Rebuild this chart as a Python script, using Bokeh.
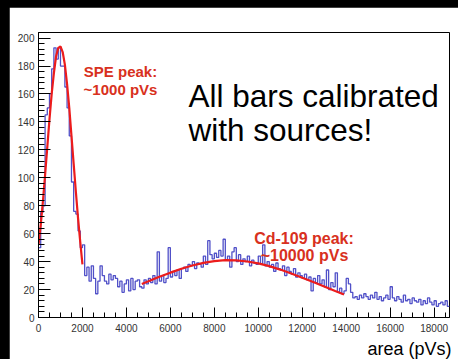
from bokeh.plotting import figure
from bokeh.models import Range1d, Label, SingleIntervalTicker, Title
from bokeh.layouts import column
from bokeh.embed import file_html
from bokeh.resources import INLINE

# ---------------- data ----------------
BIN_START = 0
BIN_WIDTH = 100  # pVs

counts = [
    # 0 - 2100
    50, 75, 80, 145, 150, 160, 178, 193, 185, 193, 180, 180, 165, 150, 130, 97, 76, 74, 62, 50, 52,
    # 2100 - 4700
    30, 36, 26, 37, 28, 17, 26, 37, 30, 26, 24, 31, 27, 30, 28, 22, 26, 18, 24, 27, 19, 28, 20, 26, 27, 22,
    # 4700 - 9000
    21, 27, 24, 28, 25, 30, 24, 47, 26, 30, 25, 28, 50, 29, 33, 30, 34, 28, 35, 36, 33, 38, 37, 40, 35,
    39, 38, 36, 44, 38, 55, 45, 42, 46, 43, 48, 44, 56, 41, 44, 36, 47, 50,
    # 9000 - 14000
    40, 45, 38, 42, 40, 44, 37, 41, 39, 38, 44, 38, 52, 37, 40, 36, 38, 33, 39, 35, 34, 37, 30, 36, 33,
    31, 35, 29, 32, 30, 28, 31, 27, 29, 19, 28, 25, 30, 24, 27, 22, 34, 20, 25, 22, 32, 18, 21, 17, 19,
    # 14000 - 18700
    28, 24, 18, 14, 15, 13, 16, 14, 17, 15, 13, 16, 14, 18, 13, 15, 12, 14, 16, 13, 22, 14, 12, 15, 13,
    11, 16, 12, 13, 10, 14, 12, 11, 13, 9, 12, 10, 14, 11, 9, 12, 8, 10, 11, 9, 12, 8,
]

# SPE fit curve
spe_x = [0, 100, 200, 300, 400, 500, 600, 700, 800, 900, 1000, 1100, 1200, 1300, 1400,
         1500, 1600, 1700, 1800, 1900, 2000]
spe_y = [52, 66, 83, 102, 122, 142, 160, 175, 187, 193, 194, 190, 181, 167, 150,
         130, 110, 90, 71, 54, 38]

# Cd-109 fit curve
cd_x = [4700, 5000, 5500, 6000, 6500, 7000, 7500, 8000, 8500, 9000, 9500, 10000, 10500,
        11000, 11500, 12000, 12500, 13000, 13500, 13900]
cd_y = [24.0, 25.9, 29.1, 32.1, 34.9, 37.2, 39.1, 40.3, 41.0, 40.9, 40.1, 38.7, 36.8,
        34.3, 31.5, 28.5, 25.4, 22.2, 18.9, 16.4]

X_MAX = 18700
Y_MAX = 204

FONT = "Liberation Sans"

# ---------------- figure ----------------
p = figure(frame_width=411, frame_height=285,
           x_range=Range1d(0, X_MAX), y_range=Range1d(0, Y_MAX),
           output_backend="svg", toolbar_location=None,
           min_border_left=29, min_border_right=9,
           min_border_top=25, min_border_bottom=42,
           margin=(7, 0, 0, 9))
p.background_fill_color = "white"
p.border_fill_color = "white"
p.xgrid.visible = False
p.ygrid.visible = False
p.outline_line_color = "black"
p.outline_line_alpha = 1.0
p.outline_line_width = 1

xa = p.xaxis[0]
xa.ticker = SingleIntervalTicker(interval=2000, num_minor_ticks=4)
xa.major_tick_in = 10
xa.major_tick_out = 0
xa.minor_tick_in = 5
xa.minor_tick_out = 0
xa.major_label_standoff = 6
xa.major_label_text_font = FONT
xa.major_label_text_font_size = "10px"
xa.major_label_text_color = "#333333"
xa.axis_line_color = "black"

ya = p.yaxis[0]
ya.ticker = SingleIntervalTicker(interval=20, num_minor_ticks=5)
ya.major_tick_in = 12
ya.major_tick_out = 0
ya.minor_tick_in = 6
ya.minor_tick_out = 0
ya.major_label_standoff = 4
ya.major_label_text_font = FONT
ya.major_label_text_font_size = "10px"
ya.major_label_text_color = "#333333"
ya.axis_line_color = "black"

# x-axis title (right aligned, ROOT style)
p.add_layout(Title(text="area (pVs)", align="right", text_font=FONT,
                   text_font_size="18px", text_font_style="normal",
                   text_color="black", standoff=4, offset=-2), "below")

# histogram as step line
edges = [BIN_START + i * BIN_WIDTH for i in range(len(counts) + 1)]
p.step(x=edges, y=counts + [counts[-1]], mode="after",
       line_color="#5050c8", line_width=1.3)

# fits
RED = "#ec1c1c"
p.line(spe_x, spe_y, line_color=RED, line_width=2.2)
p.line(cd_x, cd_y, line_color=RED, line_width=2.2)

# annotations
TRED = "#d83020"
def lab(x, y, text, size, color, bold=False, align="left"):
    p.add_layout(Label(x=x, y=y, text=text, text_font=FONT, text_font_size=size,
                       text_color=color, text_font_style="bold" if bold else "normal",
                       text_align=align, text_baseline="alphabetic"))

lab(3731, 176.1, "SPE peak:", "15px", TRED, True, "center")
lab(3731, 163.2, "~1000 pVs", "15px", TRED, True, "center")
lab(12079, 56.2, "Cd-109 peak:", "16px", TRED, True, "center")
lab(12102, 44.4, "~10000 pVs", "16px", TRED, True, "center")
lab(6824, 158.2, "All bars calibrated", "31.5px", "black", False, "left")
lab(6824, 133.9, "with sources!", "31.5px", "black", False, "left")

page = column(p, styles={"background-color": "black"})

open("out.html", "w").write(file_html(page, INLINE))
